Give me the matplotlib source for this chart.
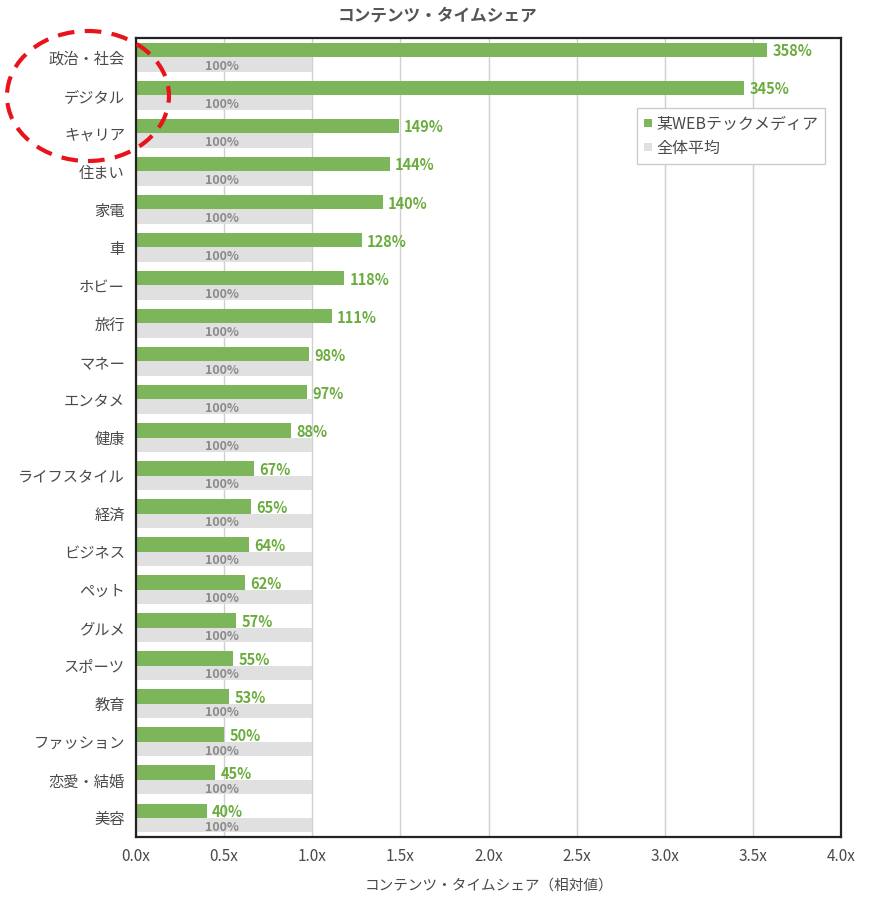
import numpy as np
import matplotlib.pyplot as plt
from matplotlib.patches import Ellipse

plt.rcParams['font.family'] = ['Noto Sans CJK JP', 'DejaVu Sans']

# data
categories = ['政治・社会', 'デジタル', 'キャリア', '住まい', '家電', '車', 'ホビー',
              '旅行', 'マネー', 'エンタメ', '健康', 'ライフスタイル', '経済', 'ビジネス',
              'ペット', 'グルメ', 'スポーツ', '教育', 'ファッション', '恋愛・結婚', '美容']
media = [3.58, 3.45, 1.49, 1.44, 1.40, 1.28, 1.18, 1.11, 0.98, 0.97, 0.88,
         0.67, 0.65, 0.64, 0.62, 0.57, 0.55, 0.53, 0.50, 0.45, 0.40]
average = [1.0] * len(categories)
xticks = [0.0, 0.5, 1.0, 1.5, 2.0, 2.5, 3.0, 3.5, 4.0]

green = '#7db65a'
green_txt = '#6aac3e'
gray = '#e0e0e0'
txt = '#4a4a4a'

fig = plt.figure(figsize=(8.75, 8.97), dpi=100)
ax = fig.add_axes([0.1554, 0.0669, 0.806, 0.8907])

y = np.arange(len(categories))
h = 0.38
ax.barh(y - h / 2, media, height=h, color=green, label='某WEBテックメディア', zorder=2)
ax.barh(y + h / 2, average, height=h, color=gray, label='全体平均', zorder=2)

for yi, v in zip(y, media):
    ax.text(v + 0.03, yi - h / 2 + 0.04, f'{v * 100:.0f}%', color=green_txt,
            fontsize=10.5, fontweight='bold', va='center', ha='left', zorder=3)
for yi, v in zip(y, average):
    ax.text(v / 2 - 0.01, yi + h / 2 + 0.05, f'{v * 100:.0f}%', color='#8a8a8a',
            fontsize=9, fontweight='bold', va='center', ha='center', zorder=3)

ax.set_ylim(len(categories) - 0.5, -0.5)
ax.set_xlim(0, 4.0)
ax.set_yticks(y)
ax.set_yticklabels(categories, fontsize=11, color=txt)
ax.set_xticks(xticks)
ax.set_xticklabels([f'{t:.1f}x' for t in xticks], fontsize=11, color=txt)
ax.tick_params(length=0, pad=8)
ax.xaxis.grid(True, color='#d0d0d0', linewidth=1, zorder=0)
ax.set_axisbelow(True)
for s in ax.spines.values():
    s.set_linewidth(1.6)
    s.set_color('#222222')

ax.set_xlabel('コンテンツ・タイムシェア（相対値）', fontsize=10.5, color=txt, labelpad=10)
fig.text(0.5, 0.983, 'コンテンツ・タイムシェア', ha='center', va='center',
         fontsize=12, fontweight='bold', color='#555555')

leg = ax.legend(loc='upper right', bbox_to_anchor=(0.989, 0.922), fontsize=11.5,
                handlelength=0.45, handleheight=0.45, handletextpad=0.3,
                borderpad=0.45, labelspacing=0.45, fancybox=False, framealpha=1)
leg.get_frame().set_edgecolor('#cccccc')
for t in leg.get_texts():
    t.set_color(txt)

# red dashed ellipse around the top categories
ell = Ellipse((88 / 875, 1 - 96 / 897), 162 / 875, 130 / 897,
              transform=fig.transFigure, fill=False, edgecolor='#e8131b',
              linewidth=3, linestyle=(0, (4, 2.5)), zorder=10, clip_on=False)
fig.patches.append(ell)

fig.savefig('out.png', dpi=100)
